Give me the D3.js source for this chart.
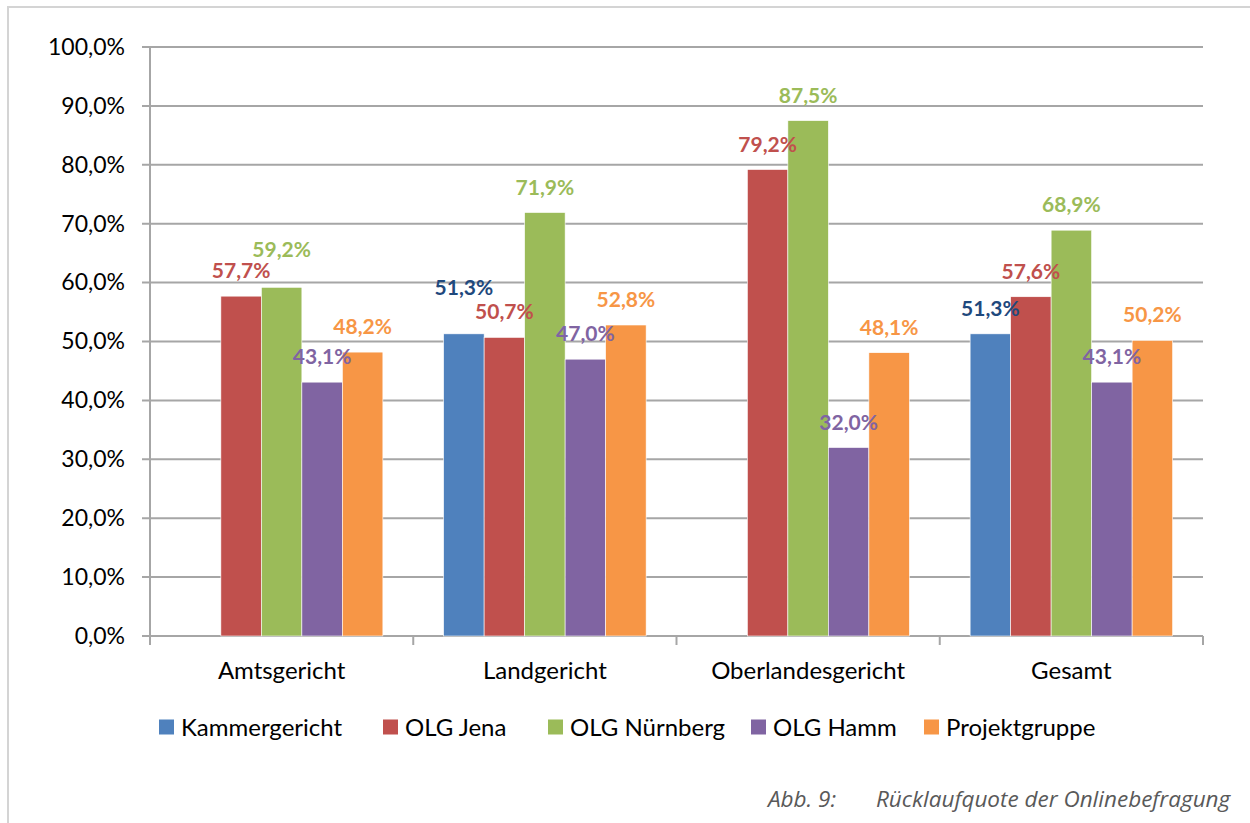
<!DOCTYPE html>
<html>
<head>
<meta charset="utf-8">
<script src="https://cdn.jsdelivr.net/npm/d3@7"></script>
<style>
  html, body { margin: 0; padding: 0; background: #fff; }
  svg { display: block; font-family: Lato, "Open Sans", sans-serif; }
</style>
</head>
<body>
<svg id="chart" width="1250" height="823"></svg>
<script>
// categories on the x axis
const categories = ["Amtsgericht", "Landgericht", "Oberlandesgericht", "Gesamt"]
// series (legend order)
const seriesNames = ["Kammergericht", "OLG Jena", "OLG Nürnberg", "OLG Hamm", "Projektgruppe"]
// response rates in percent, one array per series, by category (null = no bar)
const kammergericht = [null, 51.3, null, 51.3]
const olgJena = [57.7, 50.7, 79.2, 57.6]
const olgNuernberg = [59.2, 71.9, 87.5, 68.9]
const olgHamm = [43.1, 47.0, 32.0, 43.1]
const projektgruppe = [48.2, 52.8, 48.1, 50.2]
const yTicks = [0, 10, 20, 30, 40, 50, 60, 70, 80, 90, 100]
const caption = ["Abb. 9:", "Rücklaufquote der Onlinebefragung"]

const values = [kammergericht, olgJena, olgNuernberg, olgHamm, projektgruppe]
const barColors = ["#4F81BD", "#C0504D", "#9BBB59", "#8064A2", "#F79646"]
const labelColors = ["#1F497D", "#C0504D", "#9BBB59", "#8064A2", "#F79646"]

// labels that were nudged in the original (extra px above the usual spot)
const labelLift = {"Amtsgericht|OLG Nürnberg": 12, "Landgericht|Kammergericht": 21}

const fmt = v => v.toFixed(1).replace(".", ",") + "%"

const svg = d3.select("#chart")
const margin = {left: 150, right: 47, top: 47, bottom: 187}
const W = 1250, H = 823

// frame
svg.append("path")
  .attr("d", `M${W},7H8V${H}`)
  .attr("fill", "none").attr("stroke", "#d4d4d4").attr("stroke-width", 2)

const x0 = d3.scaleBand().domain(categories).range([margin.left, W - margin.right])
const x1 = d3.scaleBand().domain(seriesNames).range([0, x0.bandwidth()]).paddingOuter(0.75)
const y = d3.scaleLinear().domain([0, 100]).range([H - margin.bottom, margin.top])

// gridlines
svg.append("g")
  .selectAll("line").data(yTicks).join("line")
  .attr("x1", margin.left - 8).attr("x2", W - margin.right)
  .attr("y1", d => y(d)).attr("y2", d => y(d))
  .attr("stroke", "#a6a6a6").attr("stroke-width", 2)

// y axis
const yAxis = svg.append("g")
  .attr("transform", `translate(${margin.left},0)`)
  .call(d3.axisLeft(y).tickValues(yTicks).tickSize(8).tickPadding(17).tickFormat(fmt))
yAxis.select(".domain").attr("stroke", "#a6a6a6").attr("stroke-width", 2)
  .attr("d", `M0,${y(100)}V${y(0)}`)
yAxis.selectAll(".tick line").remove()
yAxis.selectAll(".tick text").attr("font-size", 23).attr("fill", "#000")
  .attr("font-family", "Lato, sans-serif")

// x axis
const xAxisG = svg.append("g").attr("transform", `translate(0,${y(0)})`)
const edges = categories.map(c => x0(c)).concat([x0(categories[categories.length - 1]) + x0.bandwidth()])
xAxisG.selectAll("line.tk").data(edges).join("line")
  .attr("class", "tk")
  .attr("x1", d => d).attr("x2", d => d).attr("y1", 0).attr("y2", 9)
  .attr("stroke", "#a6a6a6").attr("stroke-width", 2)
xAxisG.selectAll("text").data(categories).join("text")
  .attr("x", d => x0(d) + x0.bandwidth() / 2)
  .attr("y", 43)
  .attr("text-anchor", "middle")
  .attr("font-size", 24).attr("fill", "#000")
  .text(d => d)

// bars
const flat = []
categories.forEach((c, ci) => {
  seriesNames.forEach((s, si) => {
    const v = values[si][ci]
    if (v != null) flat.push({cat: c, series: s, si, v})
  })
})

svg.append("g")
  .selectAll("rect").data(flat).join("rect")
  .attr("x", d => x0(d.cat) + x1(d.series))
  .attr("y", d => y(d.v))
  .attr("width", x1.bandwidth())
  .attr("height", d => y(0) - y(d.v))
  .attr("fill", d => barColors[d.si])
  .attr("stroke", "#fff").attr("stroke-width", 0.6)

// data labels
svg.append("g")
  .selectAll("text").data(flat).join("text")
  .attr("x", d => x0(d.cat) + x1(d.series) + x1.bandwidth() / 2)
  .attr("y", d => y(d.v) - 18 - (labelLift[d.cat + "|" + d.series] || 0))
  .attr("text-anchor", "middle")
  .attr("font-size", 21).attr("font-weight", "bold")
  .attr("fill", d => labelColors[d.si])
  .text(d => fmt(d.v))

// legend
const legendX = [159, 383, 548, 751, 924]
const legend = svg.append("g")
  .selectAll("g").data(seriesNames).join("g")
  .attr("transform", (d, i) => `translate(${legendX[i]},727)`)
legend.append("rect")
  .attr("x", 0).attr("y", -7.5).attr("width", 15).attr("height", 15)
  .attr("fill", (d, i) => barColors[i])
legend.append("text")
  .attr("x", 22).attr("y", 8.5)
  .attr("font-size", 24).attr("fill", "#000")
  .text(d => d)

// caption
const cap = svg.append("g")
  .attr("font-family", "'Open Sans', sans-serif")
  .attr("font-style", "italic").attr("font-size", 22.5).attr("fill", "#595959")
cap.append("text").attr("x", 768).attr("y", 807).text(caption[0])
cap.append("text").attr("x", 876).attr("y", 807).text(caption[1])
</script>
</body>
</html>
